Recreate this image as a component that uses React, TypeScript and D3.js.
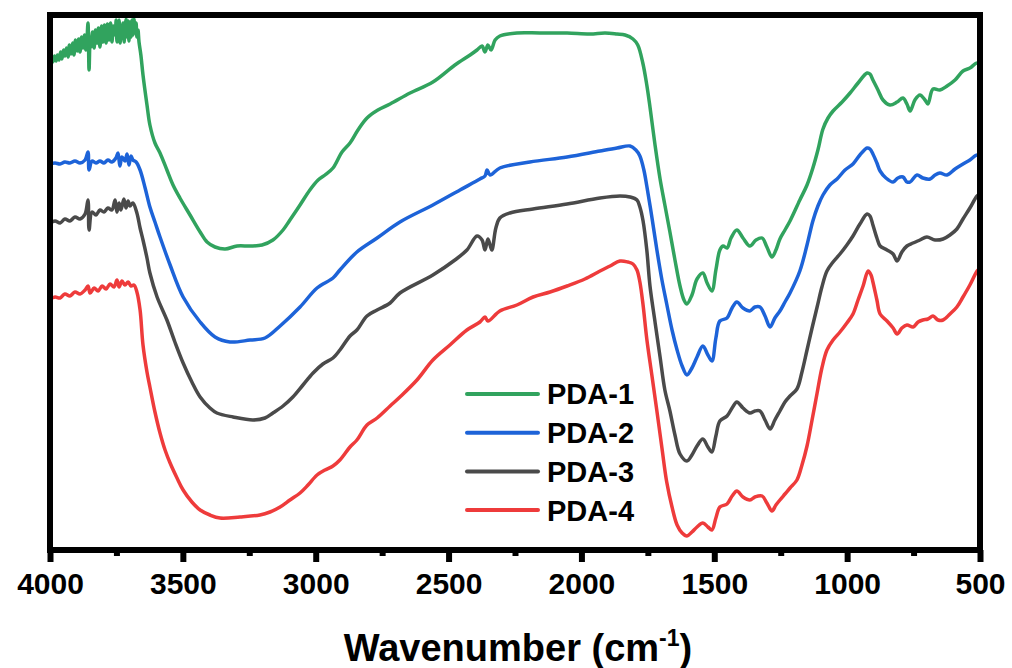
import React, { useEffect, useRef } from "react";
import * as d3 from "d3";

type Pt = [number, number];

// wavenumber (cm-1) axis
const xTicks = [4000, 3500, 3000, 2500, 2000, 1500, 1000, 500];
const xMinorTicks = [3750, 3250, 2750, 2250, 1750, 1250, 750];

const seriesNames = ["PDA-1", "PDA-2", "PDA-3", "PDA-4"];
const seriesColors = ["#31a35e", "#1d63d8", "#4a4a4a", "#ee3b3b"];

// [wavenumber, transmittance (a.u., offset)]
const pda1: Pt[] = [
	[4000, 97.6], [3994, 98.4], [3989, 97.6], [3983, 98.8], [3977, 97.8], [3972, 99], [3966, 98], [3960, 99.6],
	[3955, 98.2], [3949, 100], [3944, 98.8], [3938, 100.4], [3932, 98.6], [3927, 101], [3921, 99.2], [3915, 101.4],
	[3910, 99], [3904, 102], [3898, 99.8], [3892, 102.2], [3887, 99.6], [3881, 102.6], [3876, 100.4], [3870, 103],
	[3865, 100], [3861, 102], [3857, 105.4], [3853, 96], [3849, 102.6], [3846, 100.6], [3840, 103.6], [3834, 100.4],
	[3829, 104], [3823, 101.4], [3818, 104.4], [3812, 100.6], [3806, 104.8], [3801, 101.6], [3795, 105], [3789, 101.4],
	[3784, 105.2], [3778, 102], [3772, 105.4], [3767, 101.6], [3761, 104.8], [3755, 103], [3751, 106], [3748, 101.6],
	[3744, 104.6], [3740, 106], [3736, 101.4], [3733, 104.8], [3729, 102.4], [3725, 105.4], [3721, 101.6], [3718, 104.6],
	[3714, 106.2], [3710, 102.6], [3706, 105.8], [3703, 101.8], [3699, 105.6], [3695, 102.6], [3691, 106], [3688, 103],
	[3684, 106.2], [3680, 103.4], [3676, 105.4], [3673, 102.6], [3669, 104], [3665, 101.6], [3658, 99], [3650, 95],
	[3635, 89], [3624, 85], [3605, 81.4], [3586, 79.4], [3560, 76], [3537, 73], [3511, 70.4], [3473, 67],
	[3435, 63.6], [3409, 61.6], [3379, 60.6], [3341, 60.2], [3296, 60.8], [3247, 60.8], [3202, 61], [3161, 62],
	[3123, 64], [3097, 66], [3059, 69], [3022, 72], [2991, 74], [2965, 75], [2935, 76.4], [2901, 79.6],
	[2871, 81.4], [2841, 84], [2807, 86.4], [2766, 88], [2720, 89.2], [2645, 91.4], [2559, 93.6], [2476, 97],
	[2419, 99], [2393, 100], [2374, 100.8], [2363, 99.6], [2352, 101], [2340, 100], [2325, 102], [2307, 102.8],
	[2243, 103.4], [2156, 103.4], [2054, 103.4], [1968, 103.2], [1911, 103.4], [1866, 103.2], [1836, 103], [1806, 102.2],
	[1788, 101], [1769, 97.4], [1754, 93], [1742, 88.6], [1723, 81], [1704, 74.2], [1686, 69], [1667, 63.6],
	[1648, 58], [1629, 52.8], [1614, 50], [1603, 49.2], [1584, 51], [1565, 54.2], [1543, 55.4], [1527, 53.4],
	[1509, 51.8], [1494, 56], [1479, 60], [1467, 60.8], [1452, 60.4], [1437, 62.4], [1415, 64], [1392, 62.4],
	[1366, 60.8], [1343, 62], [1320, 62.4], [1302, 60.6], [1283, 58.6], [1268, 60], [1253, 62.2], [1234, 64],
	[1215, 65.8], [1178, 70], [1151, 73], [1129, 76.4], [1110, 80], [1091, 84.2], [1072, 86.4], [1053, 87.8],
	[1019, 89.6], [989, 91.4], [959, 93.4], [925, 95.4], [914, 95.2], [903, 94], [884, 92], [865, 90],
	[839, 89], [812, 89.6], [790, 90.4], [775, 89.2], [763, 87.8], [745, 90], [726, 91], [707, 90],
	[696, 89.2], [677, 92.2], [651, 92], [624, 92.8], [594, 94], [564, 95.8], [538, 96.4], [511, 97.4],
	[500, 96.8],
];

const pda2: Pt[] = [
	[4000, 77.2], [3981, 77.4], [3962, 77.2], [3944, 77.6], [3925, 77.4], [3906, 77.8], [3887, 77.4], [3868, 78],
	[3857, 79.6], [3853, 76], [3842, 77.8], [3827, 77.4], [3812, 77.8], [3797, 77.4], [3782, 78], [3767, 77.6],
	[3752, 78.4], [3744, 79.4], [3737, 76.8], [3729, 78.6], [3718, 77.8], [3710, 79.2], [3703, 77], [3695, 78.8],
	[3688, 78], [3676, 77.6], [3661, 76], [3642, 72.4], [3624, 68.6], [3605, 65.6], [3586, 62.6], [3548, 57],
	[3499, 50.6], [3435, 45.6], [3379, 42.6], [3323, 41.6], [3247, 42], [3191, 42.4], [3134, 44.8], [3059, 48.6],
	[2995, 52.4], [2935, 54.4], [2909, 56], [2845, 59.6], [2769, 62.4], [2683, 65.6], [2559, 69], [2457, 72],
	[2382, 74.2], [2363, 74.8], [2355, 76], [2344, 75], [2307, 76.4], [2194, 77.6], [2054, 78.6], [1930, 79.8],
	[1866, 80.4], [1817, 80.8], [1795, 80], [1780, 78.8], [1765, 76], [1754, 72.8], [1735, 66.6], [1716, 60],
	[1697, 54], [1679, 49.2], [1659, 44], [1640, 40], [1621, 36.8], [1603, 35], [1584, 36.4], [1565, 38.6],
	[1543, 40.8], [1524, 39], [1509, 37.8], [1494, 42.4], [1479, 45.8], [1452, 46.4], [1433, 48.4], [1415, 49.6],
	[1392, 48.4], [1366, 47.8], [1347, 48.6], [1328, 48.6], [1309, 46.8], [1290, 44.6], [1272, 46.4], [1253, 47.8],
	[1234, 49.6], [1215, 51.4], [1178, 55.8], [1151, 61], [1129, 65.8], [1110, 68.8], [1091, 71], [1065, 73],
	[1038, 74.2], [1008, 76], [978, 77.2], [952, 79], [925, 80.4], [914, 80.2], [903, 79.2], [888, 77.4],
	[876, 75.8], [854, 74.4], [827, 73.6], [809, 74.4], [790, 74.6], [775, 73.6], [763, 73.6], [737, 75],
	[715, 74.4], [688, 74.2], [669, 75], [651, 75.4], [624, 75], [594, 76.2], [564, 77.2], [538, 78],
	[511, 79], [500, 78.6],
];

const pda3: Pt[] = [
	[4000, 65.4], [3981, 65.8], [3962, 65.4], [3944, 66.2], [3925, 65.8], [3906, 66.6], [3887, 66.2], [3868, 67.2],
	[3857, 70], [3853, 64], [3842, 67.6], [3827, 67], [3812, 68], [3797, 67.6], [3782, 68.4], [3767, 68],
	[3755, 70], [3748, 67.6], [3740, 69.4], [3733, 68], [3722, 70.2], [3714, 68.4], [3706, 69.8], [3699, 68.8],
	[3688, 69.4], [3673, 67.4], [3661, 64.4], [3650, 62], [3635, 58.4], [3624, 55.4], [3597, 50.6], [3560, 46],
	[3530, 41.6], [3499, 37.4], [3466, 33.6], [3435, 30.6], [3398, 28.4], [3372, 27.4], [3311, 26.6], [3236, 26],
	[3191, 26.4], [3161, 27.4], [3123, 28.8], [3086, 30.6], [3048, 33], [3010, 35.4], [2973, 37.2], [2935, 38.4],
	[2909, 40], [2871, 42.8], [2845, 44], [2807, 46.8], [2769, 48], [2720, 49.4], [2683, 51.4], [2559, 55],
	[2476, 58], [2431, 60], [2393, 62.8], [2374, 62], [2363, 60], [2352, 62.2], [2344, 61], [2337, 60],
	[2322, 64.4], [2307, 66.4], [2269, 67.4], [2182, 68.2], [2054, 69.2], [1930, 70.4], [1855, 70.8], [1817, 70.6],
	[1791, 70], [1780, 68.6], [1768, 65.8], [1754, 60], [1742, 52.8], [1723, 45.6], [1704, 38.6], [1686, 32],
	[1667, 27.8], [1648, 23], [1629, 19.2], [1603, 17.8], [1584, 19], [1565, 20.8], [1543, 22.2], [1524, 20.6],
	[1509, 19.6], [1494, 22.8], [1479, 25.8], [1452, 26.8], [1433, 28.4], [1415, 29.6], [1392, 28.4], [1366, 27.4],
	[1347, 27.8], [1328, 27.8], [1309, 26], [1290, 24.2], [1272, 26], [1253, 27.8], [1234, 29.6], [1215, 30.8],
	[1189, 32.2], [1170, 35.6], [1151, 40], [1132, 44.4], [1113, 48.6], [1095, 52.6], [1076, 55.8], [1053, 57.6],
	[1027, 59.2], [1001, 61], [978, 62.8], [952, 65.2], [925, 67.2], [914, 66.8], [903, 65], [888, 62.4],
	[876, 60.8], [850, 60], [827, 59.2], [812, 57.8], [794, 59.6], [775, 60.8], [752, 61.4], [726, 62],
	[700, 62.6], [669, 62], [639, 62.2], [613, 63], [587, 64.2], [564, 66.2], [538, 68.4], [511, 70.8],
	[500, 71.2],
];

const pda4: Pt[] = [
	[4000, 50.2], [3981, 50.6], [3962, 50.4], [3944, 51.2], [3925, 50.8], [3906, 51.6], [3887, 51.2], [3868, 52],
	[3857, 52.8], [3849, 51.4], [3834, 52.4], [3819, 51.8], [3804, 52.8], [3789, 52.2], [3774, 53.2], [3759, 52.6],
	[3748, 54], [3740, 52.6], [3729, 53.8], [3718, 53], [3706, 53.6], [3695, 52.8], [3684, 53], [3673, 51.6],
	[3661, 48], [3650, 41], [3635, 35.6], [3624, 32.6], [3605, 27.6], [3586, 23.4], [3567, 20], [3548, 17.4],
	[3522, 14.4], [3499, 12], [3466, 9.6], [3435, 8], [3398, 7], [3360, 6.4], [3285, 6.6], [3210, 7],
	[3172, 7.6], [3134, 8.6], [3097, 10], [3059, 11.4], [3029, 13], [2995, 15], [2965, 16], [2935, 16.8],
	[2909, 18], [2871, 20.6], [2845, 22], [2807, 25], [2769, 26.4], [2720, 28.8], [2683, 30.6], [2619, 34],
	[2559, 38], [2495, 41], [2431, 44], [2382, 45.6], [2363, 46.6], [2352, 45.8], [2307, 47.8], [2243, 49],
	[2182, 50.6], [2118, 51.6], [2054, 52.8], [1987, 54.2], [1930, 55.8], [1892, 56.8], [1855, 57.8], [1825, 57.6],
	[1806, 57.2], [1791, 56], [1780, 53.6], [1768, 49], [1754, 42.2], [1735, 35], [1716, 27.8], [1697, 20.4],
	[1679, 13.6], [1659, 8.6], [1640, 5], [1621, 3.4], [1603, 2.8], [1584, 3.6], [1565, 4.6], [1543, 5.4],
	[1524, 4.6], [1509, 4], [1494, 6.4], [1479, 8.6], [1452, 9.2], [1433, 10.8], [1415, 11.8], [1392, 10.6],
	[1366, 10], [1347, 10.6], [1320, 10.8], [1302, 9.4], [1283, 7.8], [1268, 9], [1253, 10], [1234, 11.2],
	[1215, 12.4], [1189, 14], [1170, 17], [1151, 20.8], [1132, 26], [1113, 31.4], [1095, 36.4], [1076, 40],
	[1053, 42], [1027, 43.6], [1001, 45.4], [978, 47.2], [959, 50], [940, 52.8], [921, 55.8], [910, 55],
	[903, 53.6], [888, 50], [876, 47.2], [850, 45.8], [827, 44.4], [812, 43.2], [794, 44.4], [775, 45],
	[752, 44.6], [733, 45.6], [715, 46], [696, 46.2], [677, 46.8], [658, 46], [639, 46], [613, 47.2],
	[587, 48.6], [564, 50.6], [538, 53], [511, 55.8], [500, 56.4],
];

const seriesData = [pda1, pda2, pda3, pda4];

const FONT = "Arial, 'Liberation Sans', Helvetica, sans-serif";

const App = () => {
	const svgRef = useRef<SVGSVGElement>(null);

	useEffect(() => {
		const svg = d3.select(svgRef.current);
		svg.selectAll("*").remove();

		const width = 1012;
		const height = 668;
		const margin = { left: 50, right: 32, top: 15, bottom: 118 };
		const plotRight = width - margin.right;
		const plotBottom = height - margin.bottom;

		const x = d3.scaleLinear().domain([4000, 500]).range([margin.left, plotRight]);
		const y = d3.scaleLinear().domain([0, 107]).range([plotBottom, margin.top]);

		svg.attr("width", width).attr("height", height);
		svg.append("rect").attr("width", width).attr("height", height).attr("fill", "#fff");

		// spectra
		const line = d3
			.line<Pt>()
			.x((d) => x(d[0]))
			.y((d) => y(d[1]))
			.curve(d3.curveCatmullRom.alpha(0.5));

		seriesData.forEach((data, i) => {
			svg
				.append("path")
				.datum(data)
				.attr("d", line)
				.attr("fill", "none")
				.attr("stroke", seriesColors[i])
				.attr("stroke-width", 3.5)
				.attr("stroke-linejoin", "round")
				.attr("stroke-linecap", "round");
		});

		// frame
		svg
			.append("rect")
			.attr("x", margin.left)
			.attr("y", margin.top)
			.attr("width", plotRight - margin.left)
			.attr("height", plotBottom - margin.top)
			.attr("fill", "none")
			.attr("stroke", "#000")
			.attr("stroke-width", 6);

		// minor ticks
		const minor = svg
			.append("g")
			.attr("transform", `translate(0,${plotBottom})`)
			.call(d3.axisBottom(x).tickValues(xMinorTicks).tickSize(6).tickFormat(() => ""));
		minor.select(".domain").remove();
		minor.selectAll(".tick line").attr("stroke", "#000").attr("stroke-width", 6);

		// major ticks + labels
		const axis = svg
			.append("g")
			.attr("transform", `translate(0,${plotBottom})`)
			.call(
				d3
					.axisBottom(x)
					.tickValues(xTicks)
					.tickSize(12)
					.tickPadding(11)
					.tickFormat(d3.format("d"))
			);
		axis.select(".domain").remove();
		axis.selectAll(".tick line").attr("stroke", "#000").attr("stroke-width", 6);
		axis
			.selectAll(".tick text")
			.attr("fill", "#000")
			.style("font-family", FONT)
			.style("font-size", "30px")
			.style("font-weight", "bold");

		// axis title
		const title = svg
			.append("text")
			.attr("x", 518)
			.attr("y", 661)
			.attr("text-anchor", "middle")
			.style("font-family", FONT)
			.style("font-size", "38px")
			.style("font-weight", "bold")
			.attr("fill", "#000");
		title.append("tspan").text("Wavenumber (cm");
		title.append("tspan").attr("dy", -15).style("font-size", "23px").text("-1");
		title.append("tspan").attr("dy", 15).text(")");

		// legend
		const legend = svg.append("g").attr("transform", "translate(467,394)");
		seriesNames.forEach((name, i) => {
			const row = legend.append("g").attr("transform", `translate(0,${i * 38.7})`);
			row
				.append("line")
				.attr("x1", 0)
				.attr("x2", 71)
				.attr("stroke", seriesColors[i])
				.attr("stroke-width", 4)
				.attr("stroke-linecap", "round");
			row
				.append("text")
				.attr("x", 80)
				.attr("dy", "0.36em")
				.style("font-family", FONT)
				.style("font-size", "29px")
				.style("font-weight", "bold")
				.attr("fill", "#000")
				.text(name);
		});
	}, []);

	return (
		<svg
			ref={svgRef}
			style={{ position: "absolute", left: 0, top: 0, display: "block" }}
		></svg>
	);
};

export default App;
